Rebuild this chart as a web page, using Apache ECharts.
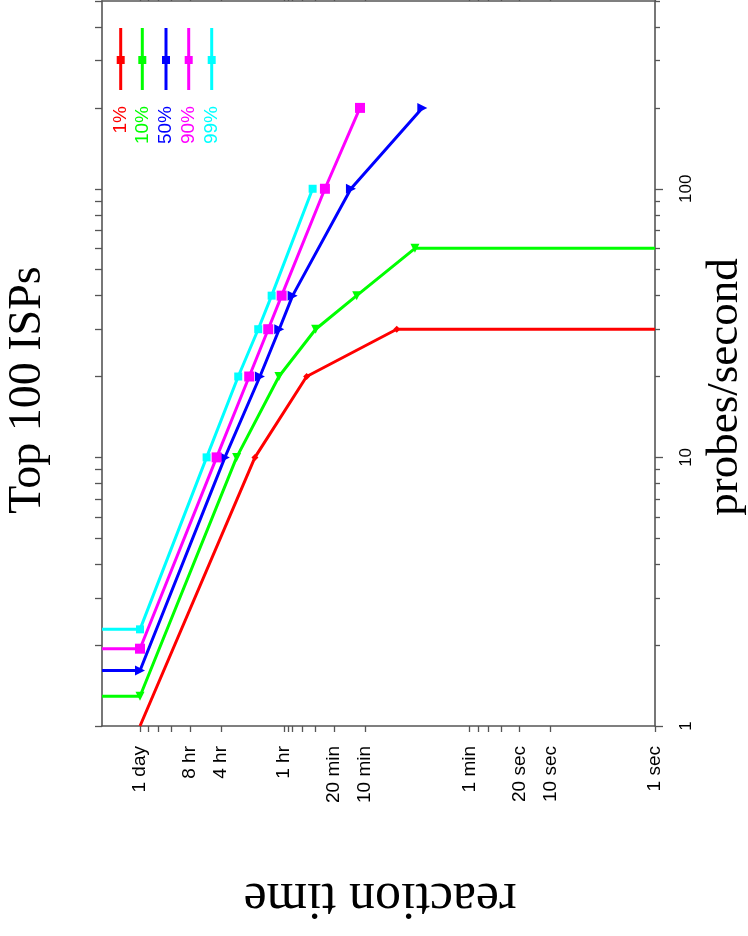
<!DOCTYPE html>
<html><head><meta charset="utf-8">
<script src="https://cdn.jsdelivr.net/npm/echarts@6/dist/echarts.min.js"></script>
<style>html,body{margin:0;padding:0;background:#fff}#c{width:748px;height:936px}</style>
</head><body><div id="c"></div>
<script>
// ---- data (reaction time in seconds, probes/second) ----
const seriesNames = ['1%', '10%', '50%', '90%', '99%'];
const seriesColors = ['#ff0000', '#00ff00', '#0000ff', '#ff00ff', '#00ffff'];

const time1 = [86400, 6840, 2185, 299, 1];
const probes1 = [1, 10, 20, 30, 30];
const time10 = [200000, 86400, 10250, 4027, 1791, 724, 200, 1];
const probes10 = [1.29, 1.29, 10, 20, 30, 40, 60, 60];
const time50 = [200000, 86400, 13270, 6124, 4000, 2977, 822, 170];
const probes50 = [1.61, 1.61, 10, 20, 30, 40, 100, 200];
const time90 = [200000, 86400, 15930, 7760, 5100, 3793, 1459, 673];
const probes90 = [1.94, 1.94, 10, 20, 30, 40, 100, 200];
const time99 = [200000, 86400, 19870, 9890, 6360, 4730, 1914];
const probes99 = [2.29, 2.29, 10, 20, 30, 40, 100];

const timeTicks = [1, 10, 20, 60, 600, 1200, 3600, 14400, 28800, 86400];
const timeTickLabels = ['1 sec', '10 sec', '20 sec', '1 min', '10 min', '20 min', '1 hr', '4 hr', '8 hr', '1 day'];
const timeMinorTicks = [30, 40, 50, 1800, 2400, 3000, 3300, 43200, 57600, 72000];
const probeTicks = [1, 10, 100];
const probeTickLabels = ['1', '10', '100'];
const probeMinorTicks = [2, 3, 4, 5, 6, 7, 8, 9, 20, 30, 40, 50, 60, 70, 80, 90, 200, 300, 400, 500];

const X_MIN = 1, X_MAX = 200000, Y_MIN = 1, Y_MAX = 500;

// ---- build ----
const allTimes = [time1, time10, time50, time90, time99];
const allProbes = [probes1, probes10, probes50, probes90, probes99];
const symbols = ['diamond', 'triangle', 'triangle', 'rect', 'rect'];
const symbolSizes = [7, 9, 10, 10, 8];
const symbolRotates = [0, 180, -90, 0, 0];

function lookup(vals, labels, v) {
  for (let i = 0; i < vals.length; i++) if (Math.abs(vals[i] - v) / vals[i] < 1e-3) return labels[i];
  return '';
}

const axisLineStyle = { color: '#555', width: 1.6 };
const allTimeTicks = timeTicks.concat(timeMinorTicks);
const allProbeTicks = probeTicks.concat(probeMinorTicks);

const series = allTimes.map((ts, k) => ({
  name: seriesNames[k],
  type: 'line',
  xAxisIndex: 0, yAxisIndex: 0,
  data: ts.map((t, i) => {
    const p = allProbes[k][i];
    const d = { value: [t, p] };
    if (t >= X_MAX || t <= X_MIN || p <= Y_MIN) d.symbol = 'none';
    return d;
  }),
  symbol: symbols[k],
  symbolSize: symbolSizes[k],
  symbolRotate: symbolRotates[k],
  showAllSymbol: true,
  lineStyle: { color: seriesColors[k], width: 3 },
  itemStyle: { color: seriesColors[k] },
  z: 2 + k
}));

const legendX = [120.7, 142.3, 166, 188.7, 211.7];
const graphics = [];
legendX.forEach((x, k) => {
  graphics.push({ type: 'line', shape: { x1: x, y1: 28, x2: x, y2: 90 }, style: { stroke: seriesColors[k], lineWidth: 3 } });
  graphics.push({ type: 'rect', shape: { x: x - 4, y: 56, width: 8, height: 8 }, style: { fill: seriesColors[k] } });
  graphics.push({ type: 'text', x: x, y: 106, rotation: Math.PI / 2,
    style: { text: seriesNames[k], fill: seriesColors[k], font: '19px "Liberation Sans", Arial, sans-serif', align: 'right', verticalAlign: 'middle' } });
});
graphics.push({ type: 'text', x: 28, y: 390, rotation: Math.PI / 2,
  style: { text: 'Top 100 ISPs', fill: '#000', font: '46px "Liberation Serif", "Times New Roman", serif', align: 'center', verticalAlign: 'middle' } });
graphics.push({ type: 'text', x: 725, y: 387, rotation: Math.PI / 2,
  style: { text: 'probes/second', fill: '#000', font: '45px "Liberation Serif", "Times New Roman", serif', align: 'center', verticalAlign: 'middle' } });
graphics.push({ type: 'text', x: 380, y: 898, rotation: Math.PI,
  style: { text: 'reaction time', fill: '#000', font: '52px "Liberation Serif", "Times New Roman", serif', align: 'center', verticalAlign: 'middle' } });

const xBase = { type: 'log', logBase: 10, min: X_MIN, max: X_MAX, inverse: true, gridIndex: 0, splitLine: { show: false } };
const yBase = { type: 'log', logBase: 10, min: Y_MIN, max: Y_MAX, gridIndex: 0, splitLine: { show: false } };

const option = {
  animation: false,
  backgroundColor: '#fff',
  grid: { left: 102, right: 93, top: 1, bottom: 210, containLabel: false },
  xAxis: [
    Object.assign({}, xBase, {
      position: 'bottom',
      axisLine: { show: true, lineStyle: axisLineStyle },
      axisTick: { show: true, inside: false, length: 6, customValues: allTimeTicks, lineStyle: { color: '#555', width: 1.3 } },
      axisLabel: { show: true, customValues: timeTicks, rotate: 90, margin: 20, color: '#000',
        fontFamily: '"Liberation Sans", Arial, sans-serif', fontSize: 19,
        formatter: v => lookup(timeTicks, timeTickLabels, v) }
    }),
    Object.assign({}, xBase, {
      position: 'top',
      axisLine: { show: true, lineStyle: axisLineStyle },
      axisTick: { show: true, inside: false, length: 6, customValues: allTimeTicks, lineStyle: { color: '#555', width: 1.3 } },
      axisLabel: { show: false }
    })
  ],
  yAxis: [
    Object.assign({}, yBase, {
      position: 'right',
      axisLine: { show: true, lineStyle: axisLineStyle },
      axisTick: { show: true, inside: false, length: 8, customValues: probeTicks, lineStyle: { color: '#555', width: 1.3 } },
      axisLabel: { show: true, customValues: probeTicks, rotate: 90, margin: 23, color: '#000',
        fontFamily: '"Liberation Sans", Arial, sans-serif', fontSize: 17,
        formatter: v => lookup(probeTicks, probeTickLabels, v) }
    }),
    Object.assign({}, yBase, {
      position: 'right',
      axisLine: { show: false },
      axisTick: { show: true, inside: false, length: 5, customValues: probeMinorTicks, lineStyle: { color: '#555', width: 1.3 } },
      axisLabel: { show: false }
    }),
    Object.assign({}, yBase, {
      position: 'left',
      axisLine: { show: true, lineStyle: axisLineStyle },
      axisTick: { show: true, inside: false, length: 7, customValues: allProbeTicks, lineStyle: { color: '#555', width: 1.3 } },
      axisLabel: { show: false }
    })
  ],
  series: series,
  graphic: graphics
};

const chart = echarts.init(document.getElementById('c'), null, { renderer: 'canvas' });
chart.setOption(option);
</script>
</body></html>
